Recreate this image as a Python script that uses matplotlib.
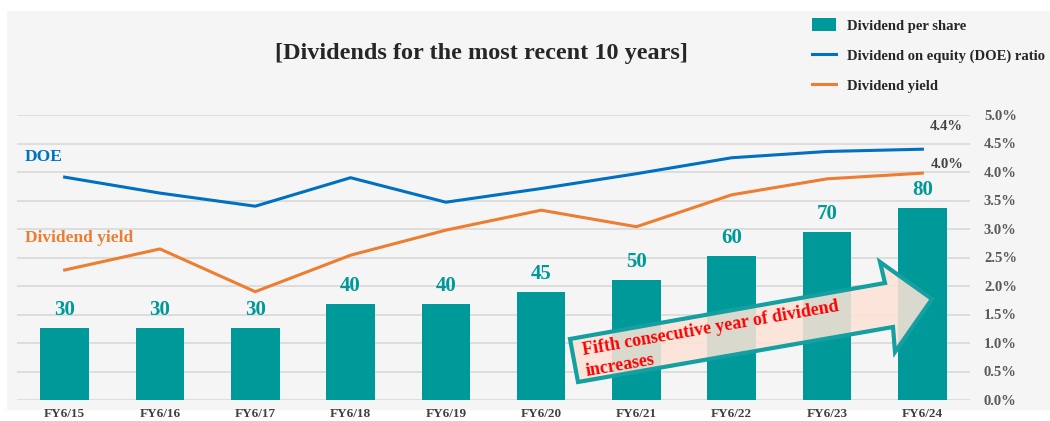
import matplotlib
matplotlib.use("Agg")
import matplotlib.pyplot as plt
import numpy as np
from matplotlib.patches import Rectangle, Polygon

categories = ["FY6/15", "FY6/16", "FY6/17", "FY6/18", "FY6/19",
              "FY6/20", "FY6/21", "FY6/22", "FY6/23", "FY6/24"]
dividend_per_share = [30, 30, 30, 40, 40, 45, 50, 60, 70, 80]
doe_ratio = [3.91, 3.63, 3.40, 3.90, 3.47, 3.71, 3.97, 4.25, 4.36, 4.40]
dividend_yield = [2.28, 2.65, 1.90, 2.54, 2.98, 3.33, 3.04, 3.60, 3.88, 3.98]
pct_ticks = [0.0, 0.5, 1.0, 1.5, 2.0, 2.5, 3.0, 3.5, 4.0, 4.5, 5.0]
pct_labels = [f"{t:.1f}%" for t in pct_ticks]

W, H = 1050, 421
SERIF = ["Liberation Serif", "DejaVu Serif"]
plt.rcParams["font.family"] = SERIF
plt.rcParams["font.weight"] = "bold"

TEAL = "#009999"
BLUE = "#0070C0"
ORANGE = "#ED7D31"
GRID = "#D9D9D9"
DARK = "#404040"

fig = plt.figure(figsize=(W / 100, H / 100), dpi=100, facecolor="white")

def fx(x):
    return x / W

def fy(y):
    return 1 - y / H

# panel background
fig.patches.append(Rectangle((fx(7), fy(410)), 1 - fx(7), fy(11) - fy(410),
                             transform=fig.transFigure, facecolor="#F5F5F5",
                             edgecolor="none", zorder=-10))

ax = fig.add_axes([fx(17), fy(400), fx(970) - fx(17), fy(115) - fy(400)])
ax.set_facecolor("none")
ymax = 118.75
x = np.arange(len(categories))
bars = ax.bar(x, dividend_per_share, width=0.51, color=TEAL, zorder=3,
              label="Dividend per share")
ax.set_ylim(0, ymax)
ax.set_xlim(-0.5, len(categories) - 0.5)
ax.set_yticks(np.linspace(0, ymax, 11))
ax.yaxis.grid(True, color=GRID, linewidth=1.2, zorder=0)
ax.set_axisbelow(True)
ax.set_xticks(x)
ax.set_xticklabels(categories, fontsize=9.5, fontweight="bold", color=DARK)
ax.tick_params(axis="x", length=0, pad=6)
for s in ax.spines.values():
    s.set_visible(False)
ax.bar_label(bars, labels=[str(v) for v in dividend_per_share], padding=6,
             fontsize=15, fontweight="bold", color=TEAL)

ax2 = ax.twinx()
ax.tick_params(axis="y", left=False, right=False, labelleft=False, labelright=False)
ax2.set_ylim(0, 5.0)
l1, = ax2.plot(x, doe_ratio, color=BLUE, linewidth=2.2,
               label="Dividend on equity (DOE) ratio", zorder=4)
l2, = ax2.plot(x, dividend_yield, color=ORANGE, linewidth=2.2,
               label="Dividend yield", zorder=4)
ax2.set_yticks(pct_ticks)
ax2.set_yticklabels(pct_labels, fontsize=10.5, fontweight="bold", color="#595959")
ax2.tick_params(axis="y", length=0, pad=10, left=False)
for s in ax2.spines.values():
    s.set_visible(False)

ax2.annotate(f"{doe_ratio[-1]:.1f}%", xy=(x[-1], doe_ratio[-1]), xytext=(17, 16),
             textcoords="offset points", ha="center", va="center",
             fontsize=10.5, fontweight="bold", color=DARK)
ax2.annotate(f"{dividend_yield[-1]:.1f}%", xy=(x[-1], dividend_yield[-1]), xytext=(18, 6.5),
             textcoords="offset points", ha="center", va="center",
             fontsize=10.5, fontweight="bold", color=DARK)

ax2.text(-0.42, 4.26, "DOE", color=BLUE, fontsize=12.5, fontweight="bold",
         ha="left", va="center")
ax2.text(-0.42, 2.84, "Dividend yield", color=ORANGE, fontsize=12.5,
         fontweight="bold", ha="left", va="center")

# title
fig.text(fx(481), fy(54), "[Dividends for the most recent 10 years]",
         ha="center", va="center", fontsize=17.5, fontweight="bold", color="#262626")

# legend
sq = Rectangle((0, 0), 1, 1, facecolor=TEAL, edgecolor="none")
fig.legend([sq, l1, l2], ["Dividend per share", "Dividend on equity (DOE) ratio",
                          "Dividend yield"],
           loc="upper left", bbox_to_anchor=(fx(808), fy(14)), frameon=False,
           handlelength=1.6, handleheight=1.0, handletextpad=0.75,
           labelspacing=1.05, borderaxespad=0, borderpad=0.3,
           prop={"family": SERIF, "weight": "bold", "size": 10.5},
           labelcolor="#262626")

# arrow annotation
pts = [(570, 339), (885, 283), (880, 262), (932, 299), (895, 352), (893, 327), (578, 382)]
arrow = Polygon([(fx(a), fy(b)) for a, b in pts], closed=True,
                transform=fig.transFigure, facecolor=(252/255, 227/255, 215/255, 0.87),
                edgecolor="#14A0A0", linewidth=3, zorder=20)
fig.patches.append(arrow)
fig.text(fx(583), fy(355), "Fifth consecutive year of dividend", color="#FF0000",
         fontsize=13, fontweight="bold", rotation=9.8, rotation_mode="anchor",
         ha="left", va="baseline", zorder=21)
fig.text(fx(587), fy(376), "increases", color="#FF0000",
         fontsize=13, fontweight="bold", rotation=9.8, rotation_mode="anchor",
         ha="left", va="baseline", zorder=21)

fig.savefig("out.png", dpi=100, facecolor="white")
